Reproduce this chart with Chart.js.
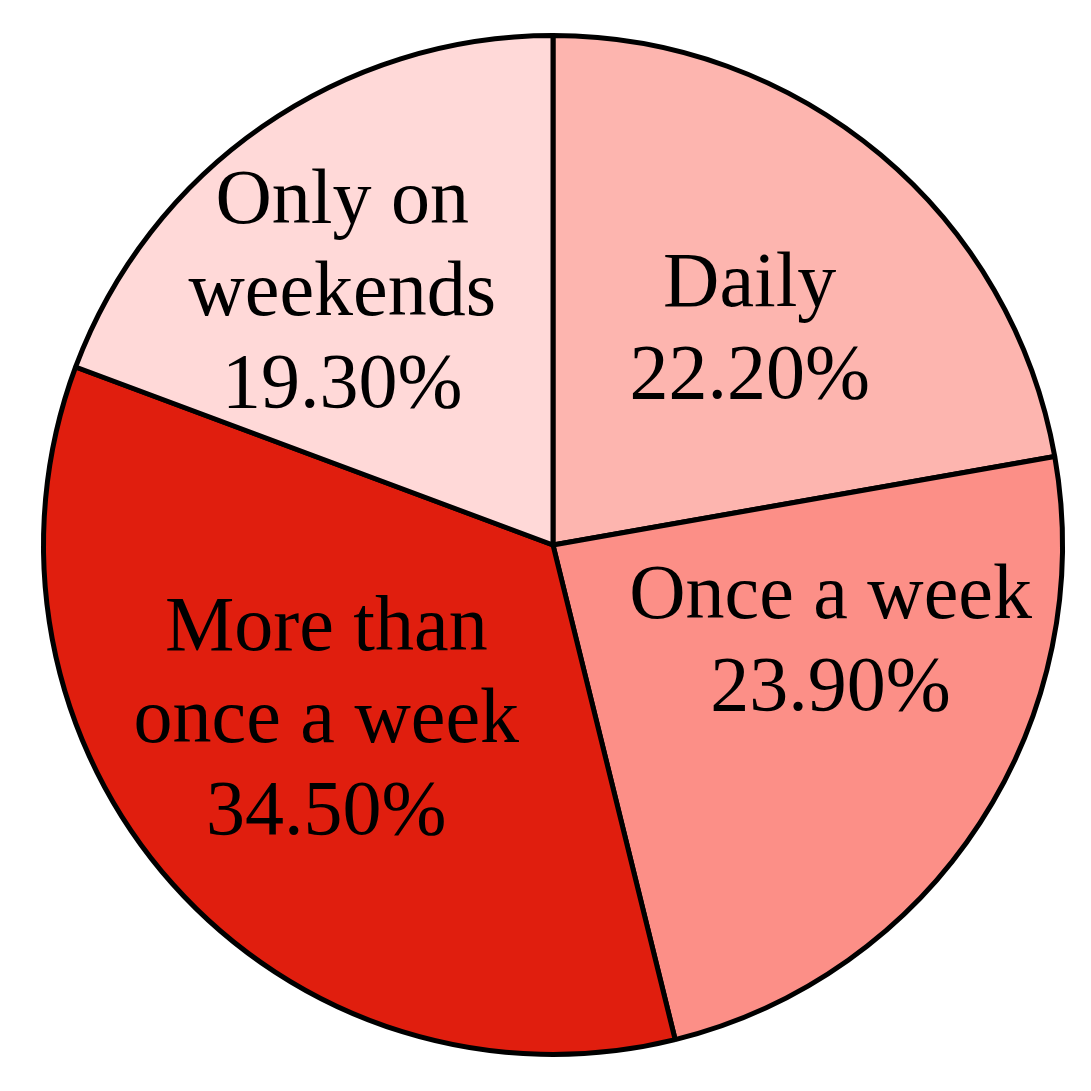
<!DOCTYPE html>
<html>
<head>
<meta charset="utf-8">
<script src="https://cdn.jsdelivr.net/npm/chart.js@4"></script>
<style>
  html, body { margin: 0; padding: 0; background: #fff; }
</style>
</head>
<body>
<canvas id="chart" width="1091" height="1091"></canvas>
<script>
const categories = ["Daily", "Once a week", "More than once a week", "Only on weekends"];
const labelLines = [["Daily"], ["Once a week"], ["More than", "once a week"], ["Only on", "weekends"]];
const shares = [22.2, 23.9, 34.5, 19.3];
const colors = ["#FDB5AF", "#FC8F87", "#E01E0E", "#FFD9D8"];

// where each label sits: fraction of radius, angle tweak in degrees
const labelPlace = [
  { r: 0.577, da: 2 },
  { r: 0.575, da: -14.4 },
  { r: 0.558, da: 4.6 },
  { r: 0.65, da: -4.75 }
];

const sliceLabels = {
  id: "sliceLabels",
  afterDatasetsDraw(chart) {
    const ctx = chart.ctx;
    const meta = chart.getDatasetMeta(0);
    ctx.save();
    ctx.fillStyle = "#000";
    ctx.font = "78px 'Liberation Serif', serif";
    ctx.textAlign = "center";
    ctx.textBaseline = "alphabetic";
    const lineH = 92;
    const capH = 51;
    meta.data.forEach((arc, i) => {
      const p = arc.getProps(["x", "y", "startAngle", "endAngle", "outerRadius"], true);
      const mid = (p.startAngle + p.endAngle) / 2 + labelPlace[i].da * Math.PI / 180;
      const rr = p.outerRadius * labelPlace[i].r;
      const cx = p.x + Math.cos(mid) * rr;
      const cy = p.y + Math.sin(mid) * rr;
      const lines = labelLines[i].concat([shares[i].toFixed(2) + "%"]);
      const blockH = capH + (lines.length - 1) * lineH;
      const firstBase = cy - blockH / 2 + capH;
      lines.forEach((t, k) => ctx.fillText(t, cx, firstBase + k * lineH));
    });
    ctx.restore();
  }
};

new Chart(document.getElementById("chart"), {
  type: "pie",
  data: {
    labels: categories,
    datasets: [{
      data: shares,
      backgroundColor: colors,
      borderColor: "#000",
      borderWidth: 5
    }]
  },
  options: {
    responsive: false,
    animation: false,
    layout: { padding: { left: 41, right: 26, top: 33, bottom: 34 } },
    plugins: {
      legend: { display: false },
      tooltip: { enabled: false }
    }
  },
  plugins: [sliceLabels]
});
</script>
</body>
</html>
